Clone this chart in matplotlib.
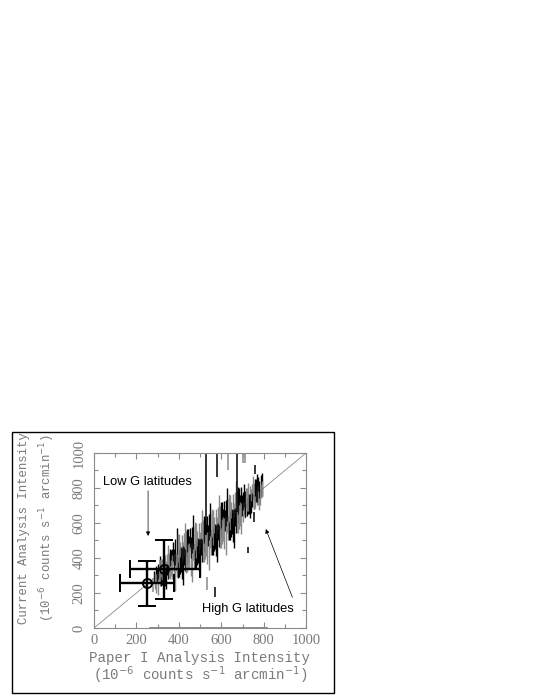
import matplotlib.pyplot as plt
from matplotlib.patches import Rectangle

# main cloud: x, y centre, half length of the vertical error bar
cloud_x = [285, 289, 292, 294, 298, 301, 303, 306, 309, 311, 314, 317, 319, 322, 325,
           327, 330, 333, 335, 338, 341, 343, 346, 349, 351, 354, 357, 359, 362, 365,
           367, 370, 373, 375, 378, 381, 383, 386, 389, 391, 394, 397, 399, 402, 405,
           407, 410, 413, 415, 418, 421, 423, 426, 429, 431, 434, 437, 439, 442, 445,
           447, 450, 453, 455, 458, 461, 463, 466, 469, 471, 474, 477, 479, 482, 485,
           487, 490, 493, 495, 498, 501, 503, 506, 509, 511, 514, 517, 519, 522, 525,
           527, 530, 533, 535, 538, 541, 543, 546, 549, 551, 554, 557, 559, 562, 565,
           567, 570, 573, 575, 578, 581, 583, 586, 589, 591, 594, 597, 599, 602, 605,
           607, 610, 613, 615, 618, 621, 623, 626, 629, 631, 634, 637, 639, 642, 645,
           647, 650, 653, 655, 658, 661, 663, 666, 669, 671, 674, 677, 679, 682, 685,
           687, 690, 693, 695, 698, 701, 704, 706, 709, 712, 714, 717, 720, 723, 725,
           728, 731, 733, 736, 739, 741, 744, 747, 750, 752, 755, 758, 761, 763, 766,
           769, 771, 774, 777, 780, 782, 785, 788, 791, 794]
cloud_y = [295, 265, 318, 256, 296, 255, 322, 290, 349, 281, 310, 343, 281, 334, 303,
           353, 308, 381, 293, 345, 286, 379, 334, 414, 318, 357, 402, 313, 387, 341,
           405, 349, 438, 329, 393, 319, 433, 376, 474, 356, 403, 457, 349, 437, 380,
           449, 391, 479, 369, 432, 357, 469, 411, 507, 389, 434, 487, 377, 465, 407,
           483, 415, 517, 388, 461, 373, 504, 436, 548, 410, 462, 524, 395, 497, 429,
           511, 443, 545, 416, 489, 401, 533, 466, 579, 442, 495, 558, 430, 533, 466,
           548, 481, 585, 457, 530, 443, 575, 508, 621, 484, 537, 600, 472, 575, 508,
           590, 524, 627, 499, 572, 485, 617, 550, 663, 526, 579, 642, 514, 617, 550,
           632, 566, 669, 541, 614, 527, 659, 592, 705, 568, 621, 684, 556, 659, 592,
           674, 608, 711, 583, 656, 569, 701, 634, 747, 610, 663, 726, 598, 701, 634,
           716, 650, 753, 625, 698, 643, 725, 685, 755, 674, 707, 746, 672, 736, 696,
           748, 709, 772, 697, 743, 691, 773, 734, 804, 722, 756, 796, 721, 784, 745,
           797, 757, 821, 746, 792, 740, 822, 784, 819, 793]
cloud_err = [30, 45, 35, 55, 40, 65, 45, 30, 60, 40, 70, 50, 35, 60, 45,
             30, 45, 35, 55, 40, 65, 45, 30, 60, 40, 70, 50, 35, 60, 45,
             45, 70, 55, 90, 60, 110, 75, 50, 95, 65, 120, 80, 55, 100, 70,
             45, 70, 55, 90, 60, 110, 75, 50, 95, 65, 120, 80, 55, 100, 70,
             45, 70, 55, 90, 60, 110, 75, 50, 95, 65, 120, 80, 55, 100, 70,
             45, 70, 55, 90, 60, 110, 75, 50, 95, 65, 120, 80, 55, 100, 70,
             45, 70, 55, 90, 60, 110, 75, 50, 95, 65, 120, 80, 55, 100, 70,
             45, 70, 55, 90, 60, 110, 75, 50, 95, 65, 120, 80, 55, 100, 70,
             45, 70, 55, 90, 60, 110, 75, 50, 95, 65, 120, 80, 55, 100, 70,
             45, 70, 55, 90, 60, 110, 75, 50, 95, 65, 120, 80, 55, 100, 70,
             45, 70, 55, 90, 60, 35, 50, 40, 65, 45, 75, 55, 35, 65, 45,
             80, 55, 40, 70, 50, 35, 50, 40, 65, 45, 75, 55, 35, 65, 45,
             80, 55, 40, 70, 50, 35, 50, 40, 65, 45]

# isolated bars outside the main band
out_x = [528, 675, 712, 760, 571, 533, 727, 755, 278, 311, 632, 703, 580]
out_y = [765, 830, 970, 905, 206, 254, 447, 634, 245, 350, 950, 970, 930]
out_err = [235, 170, 25, 25, 30, 37, 17, 29, 40, 38, 48, 30, 70]

# the two binned points with x and y errors
bin_x = [250, 330]
bin_y = [255, 335]
bin_xlo = [125, 170]
bin_xhi = [375, 500]
bin_ylo = [125, 165]
bin_yhi = [380, 500]

grey = "#8a8a8a"
lab = "#7a7a7a"

fig = plt.figure(figsize=(5.4, 6.99), dpi=100)
ax = fig.add_axes([0.174, 0.1016, 0.393, 0.2504])

# diagonal
ax.plot([0, 1000], [0, 1000], color=grey, lw=0.6, zorder=1)
# dark stretch along the bottom axis
ax.plot([265, 815], [0, 0], color="#777777", lw=1.2, clip_on=False, zorder=1)

# cloud bars, mixed black / grey
for i, (x, y, e) in enumerate(zip(cloud_x, cloud_y, cloud_err)):
    c = grey if i % 2 == 1 else "black"
    ax.vlines(x, y - e, y + e, color=c, lw=1.0, zorder=2)
for i, (x, y, e) in enumerate(zip(out_x, out_y, out_err)):
    c = grey if i in (2, 5, 8, 9, 10, 11) else "black"
    ax.vlines(x, y - e, y + e, color=c, lw=1.1, zorder=2)

# binned points
for x, y, xl, xh, yl, yh in zip(bin_x, bin_y, bin_xlo, bin_xhi, bin_ylo, bin_yhi):
    ax.errorbar([x], [y], xerr=[[x - xl], [xh - x]], yerr=[[y - yl], [yh - y]],
                fmt="o", mfc="none", mec="black", mew=1.4, ms=6.5,
                ecolor="black", elinewidth=1.7, capsize=6.5, capthick=1.7, zorder=4)

ax.set_xlim(0, 1000)
ax.set_ylim(0, 1000)
ax.set_xticks(range(0, 1001, 200))
ax.set_yticks(range(0, 1001, 200))
ax.set_xticks(range(100, 1000, 200), minor=True)
ax.set_yticks(range(100, 1000, 200), minor=True)
ax.tick_params(which="both", direction="in", top=True, right=True, color=grey,
               width=0.8)
ax.tick_params(which="major", length=4)
ax.tick_params(which="minor", length=3)
ax.tick_params(axis="x", labelsize=10.5, labelcolor=lab, pad=4)
ax.tick_params(axis="y", labelsize=10.5, labelcolor=lab, pad=6, labelrotation=90)
for t in ax.get_xticklabels() + ax.get_yticklabels():
    t.set_family("Liberation Serif")
for t in ax.get_yticklabels():
    t.set_va("center")
for s in ax.spines.values():
    s.set_color(grey)
    s.set_linewidth(0.8)

# axis titles, one line each
unit = r"(10$^{-6}$ counts s$^{-1}$ arcmin$^{-1}$)"
fig.text(0.370, 0.0529, "Paper I Analysis Intensity", family="Liberation Mono",
         fontsize=10.2, color=lab, ha="center", va="baseline")
fig.text(0.370, 0.0272, unit, family="Liberation Mono",
         fontsize=10.2, color=lab, ha="center", va="baseline")
fig.text(0.0444, 0.2446, "Current Analysis Intensity", family="Liberation Mono",
         fontsize=8.9, color=lab, ha="center", va="center", rotation=90)
fig.text(0.087, 0.2446, unit, family="Liberation Mono",
         fontsize=8.9, color=lab, ha="center", va="center", rotation=90)

# annotations
ax.text(42, 834, "Low G latitudes", family="Liberation Sans", fontsize=9.3,
        va="center", ha="left")
ax.annotate("", xy=(255, 510), xytext=(255, 800),
            arrowprops=dict(arrowstyle="-|>", color="black", lw=0.5,
                            mutation_scale=6))
ax.text(509, 109, "High G latitudes", family="Liberation Sans", fontsize=9.3,
        va="center", ha="left")
ax.annotate("", xy=(805, 580), xytext=(940, 160),
            arrowprops=dict(arrowstyle="-|>", color="black", lw=0.5,
                            mutation_scale=6))

# outer frame
fig.patches.append(Rectangle((0.022, 0.0086), 0.597, 0.3734, transform=fig.transFigure,
                             fill=False, edgecolor="black", lw=1.0))

fig.savefig("out.png", dpi=100)
